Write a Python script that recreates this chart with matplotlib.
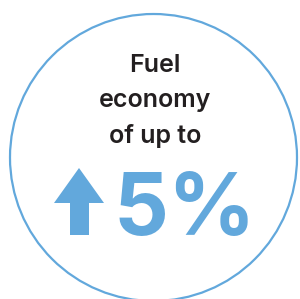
import matplotlib
matplotlib.use("Agg")
import matplotlib.pyplot as plt
from matplotlib.patches import Circle, Polygon

# Data / text
label_lines = ["Fuel", "economy", "of up to"]
value = 5
value_suffix = "%"

BLUE = "#62a8dc"
DARK = "#231f20"

fig = plt.figure(figsize=(3.0, 2.99), dpi=100)
ax = fig.add_axes([0, 0, 1, 1])
ax.set_xlim(0, 300)
ax.set_ylim(299, 0)
ax.set_aspect("equal")
ax.axis("off")

ax.add_patch(Circle((153.5, 157.5), 143.5, fill=False, ec=BLUE, lw=1.6))

for i, line in enumerate(label_lines):
    ax.text(155, 66 + 35 * i, line, ha="center", va="center",
            fontsize=18, family="Inter", fontweight="semibold", color=DARK)

# arrow icon
arrow = [(79, 168), (104, 203), (89, 203), (89, 235), (70, 235), (70, 203), (54, 203)]
ax.add_patch(Polygon(arrow, closed=True, fc=BLUE, ec="none"))

ax.text(185, 235, f"{value}{value_suffix}", ha="center", va="baseline",
        fontsize=62, family="Inter", fontweight="bold", color=BLUE)

fig.savefig("out.png", dpi=100)
